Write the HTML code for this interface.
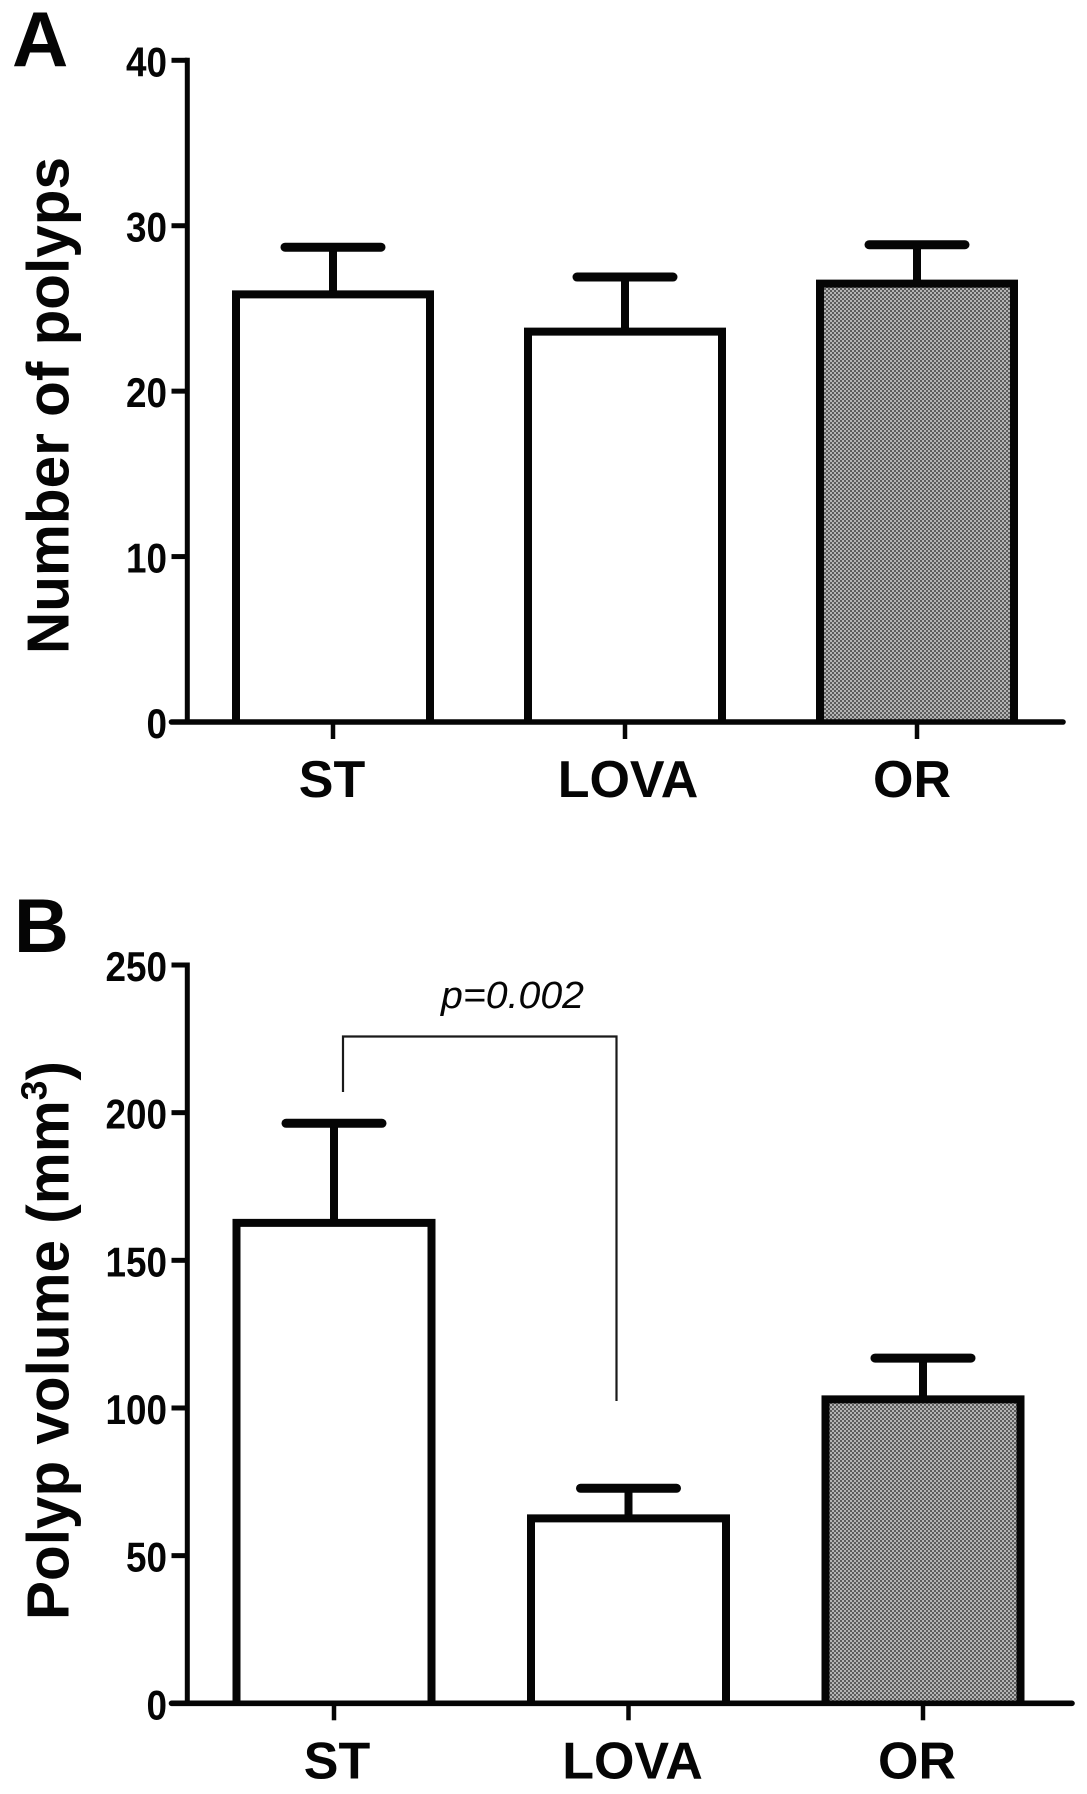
<!DOCTYPE html>
<html lang="en">
<head>
<meta charset="utf-8">
<title>Polyp number and volume bar charts</title>
<style>
  html, body { margin: 0; padding: 0; background: #ffffff; }
  svg { display: block; }
  text { font-family: "Liberation Sans", Arial, sans-serif; fill: #050505; }
  .bold { font-weight: 700; }
</style>
</head>
<body>
<svg id="figure" xmlns="http://www.w3.org/2000/svg" width="1087" height="1794" viewBox="0 0 1087 1794">
  <defs>
    <pattern id="checker" width="4" height="4" patternUnits="userSpaceOnUse">
      <rect width="4" height="4" fill="#b4b4b4"></rect>
      <rect width="2" height="2" fill="#5c5c5c"></rect>
      <rect x="2" y="2" width="2" height="2" fill="#5c5c5c"></rect>
    </pattern>
  </defs>
  <rect width="1087" height="1794" fill="#ffffff"></rect>

  <text class="bold" x="12" y="66" font-size="78">A</text>
  <text class="bold" x="14" y="952" font-size="76">B</text>

  <text class="bold" transform="translate(68.5 654) rotate(-90)" font-size="59" textLength="497" lengthAdjust="spacingAndGlyphs">Number of polyps</text>
  <text class="bold" transform="translate(68.5 1620) rotate(-90)" font-size="59" textLength="559" lengthAdjust="spacingAndGlyphs">Polyp volume (mm<tspan font-size="36" dy="-22">3</tspan><tspan dy="22">)</tspan></text>

  <g id="panel-a"></g>
  <g id="panel-b"></g>

  <path d="M343 1092 V1036.5 H616.5 V1401" fill="none" stroke="#1a1a1a" stroke-width="2.2"></path>
  <text x="441" y="1008" font-size="38" font-style="italic" textLength="143" lengthAdjust="spacingAndGlyphs">p=0.002</text>
</svg>

<script>
const categories = ['ST', 'LOVA', 'OR'];

const polypCountTicks = [0, 10, 20, 30, 40];
const polypCountMeans = [25.85, 23.6, 26.5];
const polypCountUpper = [28.7, 26.9, 28.85];

const polypVolumeTicks = [0, 50, 100, 150, 200, 250];
const polypVolumeMeans = [162.7, 62.6, 102.9];
const polypVolumeUpper = [196.4, 72.8, 116.9];

const SVG_NS = 'http://www.w3.org/2000/svg';

function make(parent, tag, attrs) {
  const node = document.createElementNS(SVG_NS, tag);
  for (const key in attrs) {
    node.setAttribute(key, attrs[key]);
  }
  parent.appendChild(node);
  return node;
}

function drawPanel(cfg) {
  const root = document.getElementById(cfg.id);
  const yScale = function (v) {
    return cfg.yZero - (v / cfg.yMax) * (cfg.yZero - cfg.yTop);
  };
  const xScale = function (i) {
    return cfg.xFirst + i * cfg.xStep;
  };
  const axisX = 187.3;
  const ink = '#050505';

  // bars and error bars
  categories.forEach(function (cat, i) {
    const cx = xScale(i);
    const top = yScale(cfg.means[i]);
    const upper = yScale(cfg.upper[i]);

    const stem = make(root, 'line', { x1: cx, x2: cx, y1: top, y2: upper, stroke: ink, 'stroke-width': 8 });
    
    

    const cap = make(root, 'line', { x1: cx - 48, x2: cx + 48, y1: upper, y2: upper, stroke: ink, 'stroke-width': 9, 'stroke-linecap': 'round' });
    
    

    const left = cx - cfg.barHalf;
    const right = cx + cfg.barHalf;
    const bar = make(root, 'path', {
      d: 'M' + left + ' ' + cfg.yZero + ' V' + top + ' H' + right + ' V' + cfg.yZero,
      fill: cat === 'OR' ? 'url(#checker)' : '#ffffff',
      stroke: ink,
      'stroke-width': 8
    });
    
    
  });

  // y axis
  const yAxis = make(root, 'line', { x1: axisX, x2: axisX, y1: yScale(cfg.yMax) - 2.5, y2: cfg.yZero + 2.5, stroke: ink, 'stroke-width': 5 });
  
  

  cfg.ticks.forEach(function (t) {
    const y = yScale(t);
    const tick = make(root, 'line', { x1: 171.5, x2: axisX, y1: y, y2: y, stroke: ink, 'stroke-width': 5 });
    
    

    const label = String(t);
    const tl = make(root, 'text', {
      x: 167,
      y: y + 16,
      'text-anchor': 'end',
      class: 'bold',
      'font-size': 42,
      textLength: label.length * 20.5,
      lengthAdjust: 'spacingAndGlyphs'
    });
    tl.textContent = label;
    
    
  });

  // x axis
  const xAxis = make(root, 'line', { x1: 171.5, x2: cfg.xEnd, y1: cfg.yZero, y2: cfg.yZero, stroke: ink, 'stroke-width': 5.6, 'stroke-linecap': 'round' });
  
  

  categories.forEach(function (cat, i) {
    const cx = xScale(i);
    const tick = make(root, 'line', { x1: cx, x2: cx, y1: cfg.yZero, y2: cfg.yZero + 17, stroke: ink, 'stroke-width': 4.5 });
    
    

    const tl = make(root, 'text', {
      x: cx + cfg.labelShift[i],
      y: cfg.yZero + 75,
      'text-anchor': 'middle',
      class: 'bold',
      'font-size': 52
    });
    tl.textContent = cat;
    
    
  });
}

drawPanel({
  id: 'panel-a',
  means: polypCountMeans,
  upper: polypCountUpper,
  ticks: polypCountTicks,
  yMax: 40,
  yZero: 722,
  yTop: 60.3,
  xFirst: 333,
  xStep: 292,
  barHalf: 97,
  xEnd: 1063,
  labelShift: [-1, 3, -5]
});

drawPanel({
  id: 'panel-b',
  means: polypVolumeMeans,
  upper: polypVolumeUpper,
  ticks: polypVolumeTicks,
  yMax: 250,
  yZero: 1703.3,
  yTop: 965,
  xFirst: 334,
  xStep: 294.5,
  barHalf: 97.5,
  xEnd: 1072,
  labelShift: [3, 4, -6]
});
</script>
</body>
</html>
